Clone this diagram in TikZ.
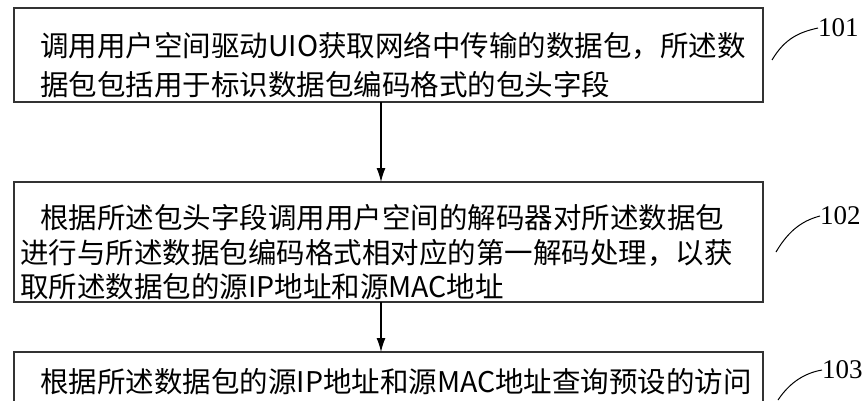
\documentclass[tikz,border=0pt]{standalone}
\usepackage{fontspec}
\usetikzlibrary{arrows.meta}
\newfontfamily\cjk{Noto Sans CJK SC}
\newfontfamily\labf{Liberation Serif}
\begin{document}
\begin{tikzpicture}[x=1pt,y=-1pt,
  box/.style={draw=black!80,line width=1.2pt},
  txt/.style={anchor=base west,inner sep=0pt,font=\cjk\fontsize{28.5}{32}\selectfont},
  lab/.style={anchor=west,inner sep=0pt,font=\labf\fontsize{27}{30}\selectfont},
  arr/.style={-{Latex[length=14pt,width=9pt]},line width=1.2pt}]
\useasboundingbox (0,0) rectangle (864,400);
\clip (0,0) rectangle (864,400);
\draw[box] (14,8) rectangle (763,102);
\coordinate (b1s) at (381,102);
\node[txt] (t11) at (40,56) {调用用户空间驱动UIO获取网络中传输的数据包，所述数};
\node[txt] (t12) at (40,95) {据包包括用于标识数据包编码格式的包头字段};
\draw[box] (14,182) rectangle (763,302);
\coordinate (b2n) at (381,182);
\coordinate (b2s) at (381,302);
\node[txt] (t21) at (40,228) {根据所述包头字段调用用户空间的解码器对所述数据包};
\node[txt] (t22) at (20,263) {进行与所述数据包编码格式相对应的第一解码处理，以获};
\node[txt] (t23) at (20,297) {取所述数据包的源IP地址和源MAC地址};
\draw[box] (14,352) rectangle (763,420);
\coordinate (b3n) at (381,352);
\node[txt] (t31) at (40,392) {根据所述数据包的源IP地址和源MAC地址查询预设的访问};
\draw[arr] (b1s) -- (b2n);
\draw[arr] (b2s) -- (b3n);
\node[lab] (l1) at (818,28) {101};
\node[lab] (l2) at (820,216) {102};
\node[lab] (l3) at (822,370) {103};
\draw[line width=1pt] (772,60) .. controls (785,38) and (800,32) .. (l1.west);
\draw[line width=1pt] (776,252) .. controls (790,228) and (805,220) .. (l2.west);
\draw[line width=1pt] (778,400) .. controls (790,382) and (805,373) .. (l3.west);
\end{tikzpicture}
\end{document}
